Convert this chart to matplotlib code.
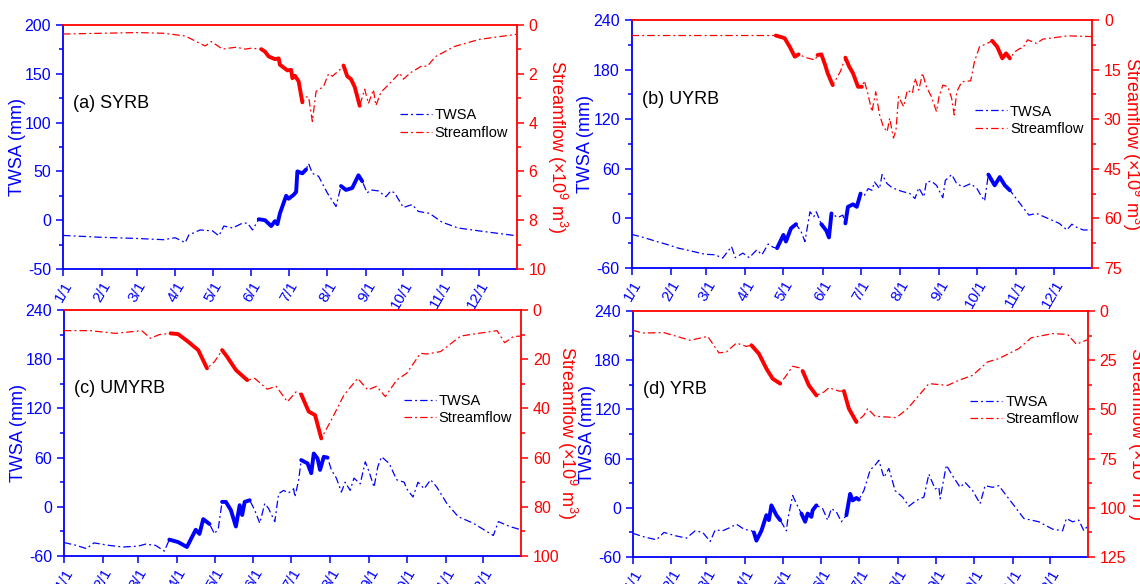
import numpy as np
import matplotlib
matplotlib.use("Agg")
import matplotlib.pyplot as plt
from matplotlib.ticker import MultipleLocator

plt.rcParams['font.family'] = ['Liberation Sans', 'DejaVu Sans']
plt.rcParams['mathtext.fontset'] = 'custom'
plt.rcParams['mathtext.rm'] = 'Liberation Sans'
plt.rcParams['mathtext.it'] = 'Liberation Sans:italic'
plt.rcParams['axes.unicode_minus'] = False

BLUE = '#0000ff'
RED = '#ff0000'

month_days = [0, 31, 59, 90, 120, 151, 181, 212, 243, 273, 304, 334]
month_labels = ['1/1', '2/1', '3/1', '4/1', '5/1', '6/1', '7/1', '8/1', '9/1', '10/1', '11/1', '12/1']

# (a) SYRB
a_twsa_day = [0, 30, 59, 81, 85, 90, 98, 101, 110, 120, 125, 129, 136, 144, 148, 152, 157, 162, 167, 170,
              172, 174, 179, 181, 185, 187, 188, 190, 192, 195, 197, 200, 205, 212, 219, 223, 227, 232, 237,
              240, 244, 247, 253, 259, 263, 266, 273, 280, 285, 294, 304, 317, 334, 364]
a_twsa = [-15.6, -17.5, -18.7, -20, -19, -18, -23, -15, -10, -11, -16, -6, -8, -3, -3, -10, 1, 0, -6, -1,
          -4, 7, 25, 22, 26, 29, 50, 49, 48, 52, 58, 48, 45, 28, 14, 35, 31, 33, 46,
          40, 28, 31, 30, 24, 30, 28, 13, 16, 9, 7, -2, -8, -11, -16]
a_sf_day = [0, 30, 59, 81, 98, 107, 114, 119, 123, 128, 133, 139, 146, 151, 159, 162, 165, 170, 173, 174,
            180, 183, 184, 186, 189, 192, 195, 197, 200, 203, 209, 213, 216, 222, 225, 228, 231, 234, 238,
            242, 245, 249, 251, 255, 261, 270, 273, 279, 288, 292, 299, 314, 334, 364]
a_sf = [0.37, 0.34, 0.31, 0.34, 0.45, 0.68, 0.86, 0.68, 0.82, 0.99, 0.95, 0.91, 0.99, 0.95, 0.99, 1.09, 1.29,
        1.40, 1.37, 1.63, 1.86, 1.84, 2.18, 2.08, 2.31, 3.17, 2.95, 2.95, 3.95, 2.72, 2.52, 2.0, 2.1, 1.84,
        1.66, 2.1, 2.22, 2.54, 3.31, 2.63, 3.22, 2.65, 3.3, 2.76, 2.45, 1.97, 2.22, 1.95, 1.67, 1.70, 1.29,
        0.88, 0.59, 0.38]
a_twsa_bold = [(157, 195), (223, 240)]
a_sf_bold = [(159, 192), (225, 238)]

# (b) UYRB
b_twsa_day = [0, 10, 20, 29, 37, 47, 58, 66, 72, 79, 82, 88, 93, 99, 103, 108, 112, 115, 120, 122, 126, 130,
              134, 137, 141, 144, 146, 150, 154, 156, 158, 163, 167, 169, 171, 175, 178, 181, 184, 187, 190,
              192, 196, 198, 202, 206, 213, 220, 224, 227, 231, 233, 237, 241, 246, 248, 253, 257, 262, 268,
              273, 276, 279, 282, 287, 291, 295, 299, 306, 314, 320, 329, 338, 344, 348, 352, 357, 364]
b_twsa = [-19.3, -23.3, -28, -32, -36, -39.4, -43.4, -44, -48, -34, -47.5, -42, -47.5, -38, -44, -31, -35,
          -36, -20, -28, -12, -7, -16, -28, 8, 2, 8, -7, -15, -23, 6, 1, 4, -6, 14, 17, 14, 30, 28, 36, 34,
          44, 36, 53, 42, 37, 33, 30, 24, 37, 26, 44, 45, 40, 25, 46, 53, 42, 38, 42,
          36, 28, 21, 53, 40, 50, 40, 34, 20, 4, 6, 0, -6, -14, -7, -11, -14, -14]
b_sf_day = [0, 60, 114, 121, 125, 129, 132, 138, 145, 147, 150, 153, 155, 159, 165, 169, 172, 175, 179, 182,
            184, 187, 190, 193, 196, 199, 202, 204, 207, 209, 211, 215, 218, 222, 224, 227, 230, 233, 237,
            241, 243, 246, 250, 253, 255, 257, 261, 268, 271, 275, 281, 285, 289, 293, 296, 299, 303, 307,
            309, 313, 320, 325, 335, 345, 361, 364]
b_sf = [4.7, 4.7, 4.7, 5.5, 8.1, 11.1, 10.4, 11.4, 12.1, 10.6, 10.4, 13.6, 16.1, 19.7, 15.6, 11.4, 14.1, 16.1,
        20.2, 20.2, 18.4, 22.7, 27.7, 21.7, 28.7, 32.3, 33.8, 29.7, 35.7, 33.3, 23.2, 26.2, 21.2, 22.2, 17.6,
        21.2, 16.1, 20.2, 23.2, 27.7, 23.2, 19.7, 20.2, 23.7, 28.7, 21.7, 18.7, 18.4, 12.6, 8.1, 7.1, 6.3,
        8.1, 11.6, 10.1, 11.6, 9.6, 8.6, 8.6, 6.0, 7.1, 5.8, 5.3, 4.8, 5.0, 5.0]
b_twsa_bold = [(115, 130), (150, 158), (169, 181), (282, 299)]
b_sf_bold = [(114, 132), (147, 159), (169, 182), (285, 299)]

# (c) UMYRB
c_twsa_day = [0, 10, 18, 24, 36, 47, 59, 65, 73, 80, 84, 91, 98, 102, 105, 108, 111, 116, 120, 123, 126, 129,
              133, 137, 140, 142, 144, 148, 152, 156, 160, 163, 168, 171, 175, 179, 183, 184, 187, 189, 194,
              197, 199, 202, 204, 207, 210, 213, 217, 221, 224, 228, 231, 236, 240, 243, 247, 250, 253, 259,
              265, 271, 273, 278, 282, 287, 292, 297, 305, 314, 326, 342, 346, 355, 364]
c_twsa = [-43.5, -47, -51, -44, -47, -49, -48, -45.5, -47, -54, -40, -43, -49, -37, -28, -33, -15, -21, -33,
          -26, 6, 6, -4, -24, 2, -10, 6, 8, -4, -20, 4, -2, -18, 16, 20, 17, 22, 12, 33, 57, 53,
          41, 65, 59, 45, 61, 60, 45, 35, 18, 30, 20, 35, 28, 55, 43, 24, 49, 61, 53,
          33, 30, 22, 12, 30, 22, 33, 24, 4, -12, -20, -35, -18, -24, -28]
c_sf_day = [0, 21, 41, 62, 69, 76, 85, 91, 99, 107, 114, 120, 126, 130, 137, 146, 152, 162, 169, 178, 185, 189,
            195, 200, 205, 213, 223, 234, 242, 249, 256, 265, 273, 284, 289, 300, 316, 326, 345, 351, 358, 364]
c_sf = [8.4, 8.4, 9.5, 8.4, 11.5, 10, 9.5, 9.8, 12.9, 16.3, 23.7, 21, 16.3, 19, 24.4, 28.5, 27.8, 32.2, 31,
        37.3, 33.2, 34.3, 41.3, 42.7, 52.2, 44.7, 34.6, 27.8, 32.5, 31, 35.2, 28.5, 25.7, 17.6, 17.9, 16.9,
        10.6, 9.8, 8.4, 13.3, 10.8, 10.6]
c_twsa_bold = [(84, 116), (126, 148), (189, 210)]
c_sf_bold = [(85, 114), (126, 146), (189, 205)]

# (d) YRB
d_twsa_day = [0, 8, 19, 25, 34, 43, 50, 56, 62, 66, 72, 78, 83, 89, 95, 97, 99, 103, 107, 109, 111, 115, 118,
              123, 124, 128, 131, 135, 138, 140, 143, 144, 147, 152, 156, 159, 163, 167, 171, 174, 176, 179,
              181, 185, 190, 194, 197, 201, 205, 210, 216, 221, 227, 233, 237, 242, 245, 246, 251, 256, 262,
              266, 272, 278, 282, 288, 293, 303, 313, 325, 336, 344, 347, 352, 357, 361, 364]
d_twsa = [-31, -35, -39, -30, -34, -37, -28, -30, -41, -27, -28, -24, -20, -26, -28, -30, -40, -28, -9, -15,
          3, -9, -15, -28, -15, 15, 5, -7, -17, -7, -11, -3, 3, -1, -15, -1, -5, -17, -9, 17, 9, 12,
          10, 21, 46, 52, 58, 37, 48, 21, 13, 2, 9, 13, 41, 23, 25, 11, 52, 39, 25,
          31, 21, 5, 27, 25, 27, 7, -13, -17, -26, -28, -13, -17, -15, -28, -22]
d_sf_day = [0, 8, 25, 46, 60, 69, 75, 83, 91, 95, 101, 107, 112, 118, 123, 128, 133, 136, 141, 147, 153, 157,
            165, 169, 173, 179, 185, 188, 194, 204, 211, 220, 229, 237, 252, 261, 272, 284, 293, 309, 319,
            336, 348, 355, 364]
d_sf = [9.8, 11.2, 11, 14.9, 12.9, 21.3, 20.8, 16.3, 18, 17.4, 21.7, 29.3, 34.4, 36.9, 32.7, 28.1, 28.8, 30.5,
        37.8, 42.9, 41.2, 39, 40.7, 40.7, 49.6, 56.4, 53, 49.6, 53.5, 53.9, 54.2, 49.6, 42.9, 36.9, 37.8,
        35.2, 32.7, 25.9, 24.2, 19.1, 13.6, 11.5, 11.9, 16.9, 14.6]
d_twsa_bold = [(97, 118), (135, 147), (171, 181)]
d_sf_bold = [(95, 118), (136, 147), (169, 179)]

DASHDOT = (0, (6, 2.5, 1.5, 2.5))


def draw_panel(rect, label, twsa_day, twsa, twsa_bold, sf_day, sf, sf_bold,
               twsa_lim, twsa_step, sf_lim, sf_step, right_pad=-1):
    ax = fig.add_axes(rect)
    ax2 = ax.twinx()

    td = np.array(twsa_day)
    tv = np.array(twsa)
    sd = np.array(sf_day)
    sv = np.array(sf)

    l1, = ax.plot(td, tv, color=BLUE, lw=0.9, ls=DASHDOT)
    for s, e in twsa_bold:
        m = (td >= s) & (td <= e)
        ax.plot(td[m], tv[m], color=BLUE, lw=2.8, solid_capstyle='round')
    l2, = ax2.plot(sd, sv, color=RED, lw=0.9, ls=DASHDOT)
    for s, e in sf_bold:
        m = (sd >= s) & (sd <= e)
        ax2.plot(sd[m], sv[m], color=RED, lw=2.8, solid_capstyle='round')

    ax.set_xlim(0, 364)
    ax.set_xticks(month_days)
    ax.set_xticklabels(month_labels, rotation=60, ha='right', rotation_mode='anchor')
    ax.set_ylim(*twsa_lim)
    ax.yaxis.set_major_locator(MultipleLocator(twsa_step))
    ax.yaxis.set_minor_locator(MultipleLocator(twsa_step / 2))
    ax2.set_ylim(sf_lim[1], sf_lim[0])
    ax2.yaxis.set_major_locator(MultipleLocator(sf_step))
    ax2.yaxis.set_minor_locator(MultipleLocator(sf_step / 2))

    ax.tick_params(axis='x', colors=BLUE, labelsize=11, length=5, width=1.1, pad=2)
    ax.tick_params(axis='y', which='major', colors=BLUE, labelsize=11.5, length=5, width=1.1)
    ax.tick_params(axis='y', which='minor', colors=BLUE, length=3, width=1.1)
    ax2.tick_params(axis='y', which='major', colors=RED, labelsize=11.5, length=5, width=1.1)
    ax2.tick_params(axis='y', which='minor', colors=RED, length=3, width=1.1)

    for sp in ['left', 'bottom']:
        ax.spines[sp].set_color(BLUE)
        ax.spines[sp].set_linewidth(1.3)
        ax2.spines[sp].set_visible(False)
    ax.spines['right'].set_visible(False)
    ax.spines['top'].set_visible(False)
    ax2.spines['right'].set_color(RED)
    ax2.spines['top'].set_color(RED)
    ax2.spines['right'].set_linewidth(1.3)
    ax2.spines['top'].set_linewidth(1.3)

    ax.set_ylabel('TWSA (mm)', color=BLUE, fontsize=13, labelpad=-1)
    ax2.set_ylabel('Streamflow (\u00d710$^{9}$ m$^{3}$)', color=RED, fontsize=13,
                   rotation=270, va='bottom', labelpad=right_pad)

    ax.text(0.022, 0.68, label, transform=ax.transAxes, fontsize=13, va='center', ha='left')
    ax2.legend([l1, l2], ['TWSA', 'Streamflow'], loc='center right', bbox_to_anchor=(1.0, 0.595),
               frameon=False, fontsize=10.5, handlelength=2.2, handletextpad=0.2,
               labelspacing=0.25, borderaxespad=0.2)
    return ax, ax2


fig = plt.figure(figsize=(11.4, 5.84), dpi=100)

draw_panel([0.0553, 0.5394, 0.398, 0.4178], '(a) SYRB', a_twsa_day, a_twsa, a_twsa_bold,
           a_sf_day, a_sf, a_sf_bold, (-50, 200), 50, (0, 10), 2)
draw_panel([0.554, 0.5411, 0.404, 0.4247], '(b) UYRB', b_twsa_day, b_twsa, b_twsa_bold,
           b_sf_day, b_sf, b_sf_bold, (-60, 240), 60, (0, 75), 15)
draw_panel([0.056, 0.0479, 0.401, 0.4213], '(c) UMYRB', c_twsa_day, c_twsa, c_twsa_bold,
           c_sf_day, c_sf, c_sf_bold, (-60, 240), 60, (0, 100), 20, right_pad=-3)
draw_panel([0.555, 0.0462, 0.399, 0.4213], '(d) YRB', d_twsa_day, d_twsa, d_twsa_bold,
           d_sf_day, d_sf, d_sf_bold, (-60, 240), 60, (0, 125), 25)

fig.savefig('out.png', dpi=100)
